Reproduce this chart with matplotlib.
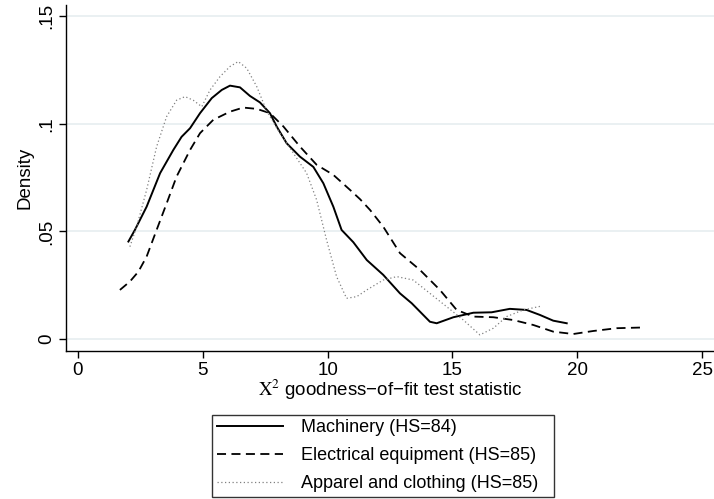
import matplotlib
matplotlib.use("Agg")
import matplotlib.pyplot as plt

plt.rcParams['font.family'] = ['Liberation Sans', 'DejaVu Sans']
plt.rcParams['mathtext.fontset'] = 'stix'

mach_x = [2.02, 2.28, 2.75, 3.29, 3.82, 4.15, 4.49, 4.89, 5.36, 5.76, 6.09, 6.49, 6.89, 7.29, 7.69,
          7.96, 8.36, 8.89, 9.43, 9.83, 10.23, 10.56, 11.03, 11.57, 12.23, 12.9, 13.37, 14.1, 14.37,
          15.04, 15.84, 16.57, 17.3, 17.97, 18.5, 19.04, 19.58]
mach_y = [0.0453, 0.0507, 0.0615, 0.0771, 0.0879, 0.094, 0.098, 0.105, 0.112, 0.1158, 0.1178, 0.117,
          0.113, 0.110, 0.105, 0.0988, 0.091, 0.0848, 0.080, 0.0724, 0.0615, 0.0507, 0.045, 0.0367,
          0.0298, 0.0212, 0.0166, 0.008, 0.0073, 0.0101, 0.0122, 0.0124, 0.014, 0.0135, 0.0112,
          0.0085, 0.0073]

elec_x = [1.68, 2.08, 2.42, 2.75, 3.15, 3.55, 3.95, 4.49, 4.89, 5.42, 6.09, 6.62, 7.16, 7.69, 8.23,
          8.89, 9.56, 10.23, 10.9, 11.3, 11.7, 12.23, 12.9, 13.7, 14.5, 15.17, 15.84, 16.64, 17.44,
          18.24, 19.04, 19.84, 20.64, 21.58, 22.52]
elec_y = [0.0228, 0.0267, 0.0313, 0.0383, 0.0507, 0.063, 0.0755, 0.0879, 0.0957, 0.1019, 0.1057,
          0.1076, 0.107, 0.105, 0.0988, 0.0895, 0.081, 0.0763, 0.0693, 0.065, 0.06, 0.0522, 0.0399,
          0.0321, 0.0228, 0.0135, 0.0104, 0.0101, 0.0088, 0.0065, 0.0034, 0.0023, 0.0037, 0.005,
          0.0053]

app_x = [2.08, 2.35, 2.75, 3.15, 3.55, 3.95, 4.29, 4.62, 4.96, 5.29, 5.69, 6.09, 6.42, 6.76, 7.16,
         7.56, 8.09, 8.63, 9.16, 9.56, 9.96, 10.36, 10.76, 11.17, 11.57, 12.23, 12.77, 13.43, 14.1,
         14.77, 15.44, 16.1, 16.64, 17.17, 17.84, 18.57]
app_y = [0.0429, 0.0522, 0.0693, 0.0894, 0.1034, 0.111, 0.1127, 0.111, 0.108, 0.1158, 0.122, 0.1267,
         0.129, 0.1259, 0.1174, 0.106, 0.0957, 0.0864, 0.0771, 0.0647, 0.046, 0.029, 0.0189, 0.0197,
         0.0228, 0.0274, 0.029, 0.0274, 0.0212, 0.015, 0.0088, 0.0019, 0.005, 0.0104, 0.0135, 0.0153]

labels = ["Machinery (HS=84)", "Electrical equipment (HS=85)", "Apparel and clothing (HS=85)"]
xticks = [0, 5, 10, 15, 20, 25]
yticks = [0, 0.05, 0.1, 0.15]
yticklabels = ["0", ".05", ".1", ".15"]

fs = 13.5
fig = plt.figure(figsize=(7.14, 4.99), dpi=100)
ax = fig.add_axes([66/714, 1 - 351/499, 1 - 66/714, (351 - 5)/499])

ax.plot(mach_x, mach_y, color='black', lw=1.4, ls='-', label=labels[0])
ax.plot(elec_x, elec_y, color='black', lw=1.3, ls=(0, (5, 3)), label=labels[1])
ax.plot(app_x, app_y, color='#808080', lw=0.9, ls=(0, (1, 2)), label=labels[2])

ax.set_xlim(-0.48, 25.48)
ax.set_ylim(-0.0056, 0.1553)
ax.set_xticks(xticks)
ax.set_yticks(yticks)
ax.set_yticklabels(yticklabels, rotation=90, va='center')
ax.tick_params(axis='both', direction='out', length=5, width=1, labelsize=fs, color='black', pad=3)
ax.grid(axis='y', color='#e6eef0', lw=1.2)
ax.set_axisbelow(True)
for s in ['top', 'right']:
    ax.spines[s].set_visible(False)
for s in ['left', 'bottom']:
    ax.spines[s].set_linewidth(1.0)

ax.set_ylabel("Density", fontsize=fs, labelpad=3)
ax.set_xlabel(r"$\mathrm{X}^{2}$ goodness−of−fit test statistic", fontsize=fs, labelpad=-1)

leg = fig.legend(loc='lower left', bbox_to_anchor=(212/714, 1 - 497/499, (554 - 212)/714, (497 - 412)/499),
                 mode='expand', ncol=1, fontsize=13, frameon=True, fancybox=False,
                 handlelength=3.7, handletextpad=1.0, borderpad=0.25, labelspacing=0.62,
                 borderaxespad=0)
leg.get_frame().set_edgecolor('black')
leg.get_frame().set_linewidth(1.0)

fig.savefig("out.png", dpi=100)
